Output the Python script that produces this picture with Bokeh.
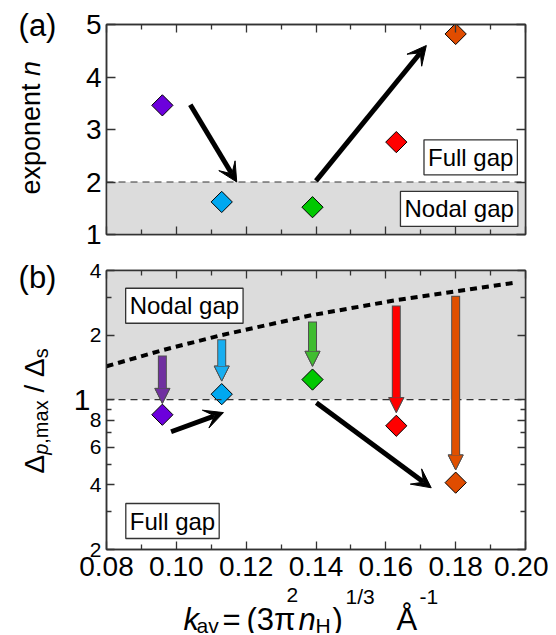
import numpy as np
from bokeh.plotting import figure
from bokeh.layouts import column
from bokeh.models import (Range1d, LinearAxis, LogAxis, FixedTicker, Span, BoxAnnotation,
                          Label, Arrow, VeeHead, NormalHead, GridBox)
from bokeh.embed import file_html
from bokeh.resources import INLINE

# ---------------- data ----------------
k_av = [0.096, 0.113, 0.139, 0.163, 0.180]
exponent_n = [3.46, 1.62, 1.52, 2.76, 4.82]
gap_ratio = [0.85, 1.06, 1.24, 0.755, 0.41]
ratio_from = [1.59, 1.89, 2.29, 2.72, 3.02]
ratio_to = [0.96, 1.22, 1.43, 0.87, 0.47]
bound_k = [0.080, 0.096, 0.113, 0.139, 0.163, 0.180, 0.197]
bound_ratio = [1.43, 1.70, 2.00, 2.48, 2.91, 3.20, 3.51]
trend_a_x0 = [0.104, 0.140]
trend_a_y0 = [3.47, 2.02]
trend_a_x1 = [0.1173, 0.1716]
trend_a_y1 = [2.00, 4.60]
trend_b_x0 = [0.0985, 0.1401]
trend_b_y0 = [0.708, 0.966]
trend_b_x1 = [0.1135, 0.1730]
trend_b_y1 = [0.870, 0.388]
x_ticks = [0.08, 0.10, 0.12, 0.14, 0.16, 0.18, 0.20]
x_minor = [0.09, 0.11, 0.13, 0.15, 0.17, 0.19]
x_tick_labels = ["0.08", "0.10", "0.12", "0.14", "0.16", "0.18", "0.20"]
n_ticks = [1, 2, 3, 4, 5]
n_tick_labels = ["1", "2", "3", "4", "5"]
ratio_ticks = [0.2, 0.4, 0.6, 0.8, 1, 2, 4]
ratio_tick_labels = ["2", "4", "6", "8", "1", "2", "4"]
ratio_minor = [0.3, 0.5, 0.7, 0.9, 3]

# ---------------- style ----------------
FONT = "Liberation Sans"
marker_colors = ["#6c00dc", "#00a8f0", "#00c800", "#ff0000", "#e04c00"]
arrow_colors = ["#7030a0", "#18aef0", "#40bc30", "#ff0000", "#e05000"]
GRAY = "#dcdcdc"
EDGE = "#333333"
FW, FH1, FH2 = 419, 210, 279
L0, T0, B1 = 106, 24, 20    # panel (a) borders
T2, B2 = 16, 84             # panel (b) borders
W_TOTAL = L0 + FW + 23
H_TOTAL = T0 + FH1 + B1 + T2 + FH2 + B2


def style_axis(ax, ticks, minor=(), labels=None, size="28px", standoff=5):
    ax.ticker = FixedTicker(ticks=list(ticks), minor_ticks=list(minor))
    ax.major_tick_in = 8
    ax.major_tick_out = 0
    ax.minor_tick_in = 5
    ax.minor_tick_out = 0
    ax.axis_line_color = EDGE
    ax.axis_line_width = 1.5
    ax.major_tick_line_color = EDGE
    ax.minor_tick_line_color = EDGE
    ax.major_tick_line_width = 1.3
    ax.minor_tick_line_width = 1.3
    ax.major_label_text_font = FONT
    ax.major_label_text_color = "black"
    if labels is None:
        ax.major_label_overrides = {t: "" for t in ticks}
        ax.major_label_text_font_size = "8px"
        ax.major_label_standoff = 0
    else:
        ax.major_label_overrides = dict(zip(ticks, labels))
        ax.major_label_text_font_size = size
        ax.major_label_standoff = standoff


def base_fig(y_range, fh, top, bottom, y_type="linear"):
    p = figure(frame_width=FW, frame_height=fh, x_range=Range1d(0.08, 0.20), y_range=y_range,
               y_axis_type=y_type, output_backend="svg", toolbar_location=None,
               min_border_left=L0, min_border_right=23, min_border_top=top, min_border_bottom=bottom,
               background_fill_color="white", border_fill_color="white")
    p.grid.visible = False
    p.outline_line_color = EDGE
    p.outline_line_width = 1.5
    return p


def box_label(p, x, y, text):
    p.add_layout(Label(x=x, y=y, text=text, text_font=FONT, text_font_size="24px",
                       text_align="center", text_baseline="middle", text_color="black",
                       background_fill_color="white", border_line_color=EDGE,
                       border_line_width=1.3, padding=4))


# ---------------- panel (a) ----------------
p1 = base_fig(Range1d(1, 5), FH1, T0, B1)
style_axis(p1.xaxis[0], x_ticks, x_minor)
style_axis(p1.yaxis[0], n_ticks, (), n_tick_labels, "28px", 5)
p1.yaxis[0].major_tick_in = 9
top1 = LinearAxis()
style_axis(top1, x_ticks, x_minor)
p1.add_layout(top1, "above")
right1 = LinearAxis()
style_axis(right1, n_ticks)
right1.major_tick_in = 9
p1.add_layout(right1, "right")

p1.add_layout(BoxAnnotation(top=2, fill_color=GRAY, fill_alpha=1, line_color=None, level="underlay"))
p1.add_layout(Span(location=2, dimension="width", line_color=EDGE, line_width=1.2, line_dash="7 5"))

for i in range(2):
    p1.add_layout(Arrow(x_start=trend_a_x0[i], y_start=trend_a_y0[i], x_end=trend_a_x1[i], y_end=trend_a_y1[i],
                        line_width=5, line_color="black",
                        end=VeeHead(size=19, fill_color="black", line_color="black", line_width=1)))

p1.scatter(k_av, exponent_n, marker="square", angle=np.pi / 4, size=15,
           fill_color=marker_colors, line_color="black", line_width=1)

box_label(p1, 0.1843, 2.47, "Full gap")
box_label(p1, 0.1810, 1.487, "Nodal gap")

# ---------------- panel (b) ----------------
p2 = base_fig(Range1d(0.2, 4), FH2, T2, B2, "log")
style_axis(p2.xaxis[0], x_ticks, x_minor, x_tick_labels, "28px", 7)
style_axis(p2.yaxis[0], ratio_ticks, ratio_minor,
           [("" if t == 1 else lab) for t, lab in zip(ratio_ticks, ratio_tick_labels)], "21px", 5)
top2 = LinearAxis()
style_axis(top2, x_ticks, x_minor)
p2.add_layout(top2, "above")
right2 = LogAxis()
style_axis(right2, ratio_ticks, ratio_minor)
p2.add_layout(right2, "right")

p2.add_layout(BoxAnnotation(bottom=1, fill_color=GRAY, fill_alpha=1, line_color=None, level="underlay"))
p2.add_layout(Span(location=1, dimension="width", line_color=EDGE, line_width=1.2, line_dash="7 5"))

p2.line(bound_k, bound_ratio, line_color="black", line_width=4, line_dash="7 5")

ppo = FH2 / np.log2(4 / 0.2)   # pixels per octave on the log axis
for i in range(5):
    p2.add_layout(Arrow(x_start=k_av[i], y_start=ratio_from[i] * 2 ** (1.0 / ppo),
                        x_end=k_av[i], y_end=ratio_to[i], line_width=9, line_color="#505050",
                        end=NormalHead(size=15, fill_color=arrow_colors[i], line_color="#505050", line_width=1)))
    p2.add_layout(Arrow(x_start=k_av[i], y_start=ratio_from[i], x_end=k_av[i], y_end=ratio_to[i],
                        line_width=7, line_color=arrow_colors[i],
                        end=NormalHead(size=15, fill_color=arrow_colors[i], line_color="#505050", line_width=1)))

for i in range(2):
    p2.add_layout(Arrow(x_start=trend_b_x0[i], y_start=trend_b_y0[i], x_end=trend_b_x1[i], y_end=trend_b_y1[i],
                        line_width=5, line_color="black",
                        end=VeeHead(size=19, fill_color="black", line_color="black", line_width=1)))

p2.scatter(k_av, gap_ratio, marker="square", angle=np.pi / 4, size=15,
           fill_color=marker_colors, line_color="black", line_width=1)

box_label(p2, 0.1023, 2.74, "Nodal gap")
box_label(p2, 0.0989, 0.2716, "Full gap")

# ---------------- text overlay (page pixel coordinates) ----------------
ov = figure(width=W_TOTAL, height=H_TOTAL, x_range=Range1d(0, W_TOTAL), y_range=Range1d(H_TOTAL, 0),
            output_backend="svg", toolbar_location=None, x_axis_location=None, y_axis_location=None,
            min_border=0, background_fill_color=None, border_fill_color=None, outline_line_color=None)
ov.grid.visible = False


def put(px, py, text, size, italic=False, angle=0.0, align="left", baseline="alphabetic"):
    ov.add_layout(Label(x=px, y=py, text=text, text_font=FONT, text_font_size=f"{size}px",
                        text_font_style="italic" if italic else "normal",
                        angle=angle, text_align=align, text_baseline=baseline, text_color="black"))


R = np.pi / 2
put(37, 25, "(a)", 31, align="center", baseline="middle")
put(37, 277, "(b)", 31, align="center", baseline="middle")
# panel (a) y title
put(30, 194, "exponent", 27, angle=R)
put(30, 75.4, "n", 27, italic=True, angle=R)
# large "1" tick label of panel (b)
one_y = T0 + FH1 + B1 + T2 + np.log2(4 / 1) * ppo
put(90, one_y, ratio_tick_labels[4], 30, align="right", baseline="middle")
# panel (b) y title: Δ_{p,max} / Δ_s
bx, sbx = 34, 40
put(bx, 473, "Δ", 28, angle=R)
put(sbx, 454.3, "p", 20, italic=True, angle=R)
put(sbx, 443.2, ",max", 20, angle=R)
put(bx, 392.1, "/", 28, angle=R)
put(bx, 376.5, "Δ", 28, angle=R)
put(sbx, 357.8, "s", 20, angle=R)
# x title: k_av = (3π² n_H)^{1/3}  Å^{-1}
YB = 619
put(183, YB, "k", 31, italic=True)
put(196, YB + 6, "av", 21)
put(222, YB, "=", 31)
put(246, YB, "(3π", 31)
put(286, YB - 25, "2", 21)
put(298, YB, "n", 31, italic=True)
put(315, YB + 6, "H", 21)
put(332, YB, ")", 31)
put(345, YB - 23, "1/3", 21)
put(396, YB, "Å", 31)
put(419, YB - 23, "-1", 21)

stack = column(p1, p2, spacing=0)
layout = GridBox(children=[(stack, 0, 0), (ov, 0, 0)])
open("out.html", "w").write(file_html(layout, INLINE))
